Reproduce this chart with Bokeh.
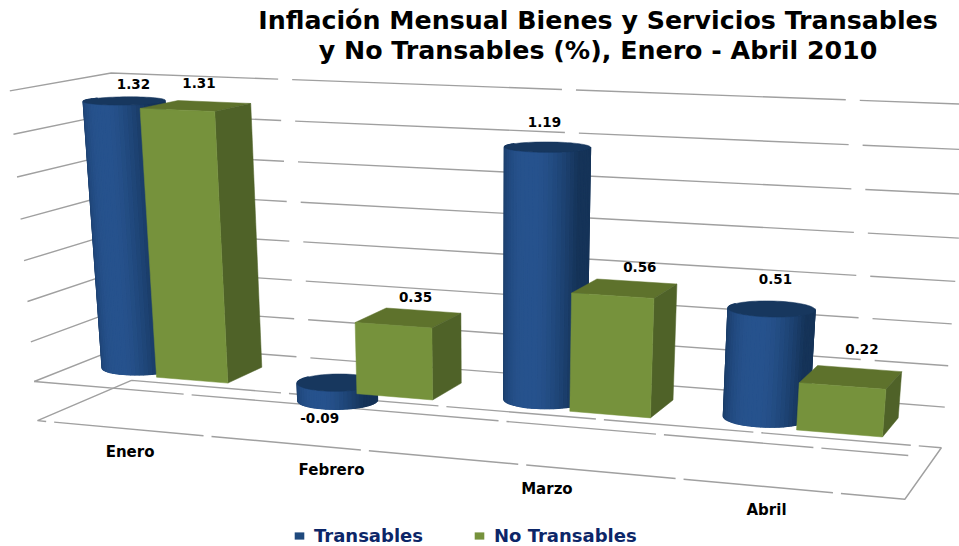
import numpy as np
from bokeh.plotting import figure
from bokeh.models import Range1d, Legend, LegendItem
from bokeh.core.properties import value
from bokeh.embed import file_html
from bokeh.resources import INLINE

# ---- data ----
meses = ["Enero", "Febrero", "Marzo", "Abril"]
transables = [1.32, -0.09, 1.19, 0.51]
no_transables = [1.31, 0.35, 0.56, 0.22]
etiquetas_t = ["1.32", "-0.09", "1.19", "0.51"]
etiquetas_n = ["1.31", "0.35", "0.56", "0.22"]
ticks = [-0.2, 0.0, 0.2, 0.4, 0.6, 0.8, 1.0, 1.2, 1.4]
titulo = ["Inflación Mensual Bienes y Servicios Transables",
          "y No Transables (%), Enero - Abril 2010"]
series = ["Transables", "No Transables"]

# ---- camera: (u along categories, w depth, v value) -> page pixels ----
cam_world = [(0, 0, -0.2), (0, 0, 1.4), (1, 0, -0.2), (1, 0, 1.4),
             (0, 1, -0.2), (0, 1, 1.4), (1, 1, -0.2), (1, 1, 1.4)]
cam_image = [(36, 420), (10, 90.5), (903, 498), (935, 128),
             (132, 380), (110, 72.5), (942, 448), (968, 103)]
A, b = [], []
for (U, W, V), (X, Y) in zip(cam_world, cam_image):
    A.append([U, W, V, 1, 0, 0, 0, 0, -X * U, -X * W, -X * V]); b.append(X)
    A.append([0, 0, 0, 0, U, W, V, 1, -Y * U, -Y * W, -Y * V]); b.append(Y)
h = np.linalg.lstsq(np.array(A, float), np.array(b, float), rcond=None)[0]
P = np.append(h, 1.0).reshape(3, 4)


def project(u, w, v):
    u, w, v = np.broadcast_arrays(np.asarray(u, float), np.asarray(w, float), np.asarray(v, float))
    q = P @ np.stack([u, w, v, np.ones_like(u)])
    return q[0] / q[2], q[1] / q[2]


# ---- layout in world units ----
n = len(meses)
centers = [(i + 0.5) / n for i in range(n)]
W0, W1 = 0.30, 0.70
BLUE_C, BLUE_R = -0.048, 0.0456
GREEN_L, GREEN_R = -0.0045, 0.0862
BLUE_DARK, BLUE_LIGHT = np.array([0x15, 0x33, 0x58]), np.array([0x27, 0x53, 0x8E])
BLUE_TOP = "#17375E"
G_FRONT, G_SIDE, G_TOP = "#76923C", "#4F6228", "#5E722C"
# pixel offsets of the value labels from the top of their bars
OFF_T = [(9, -17), (-18, 18), (-3, -25), (4, -30)]
OFF_N = [(3, -23), (7, -21), (15, -22), (11, -28)]
OFF_CAT = [5, 4, 4, -6]

p = figure(width=959, height=546, output_backend="svg", toolbar_location=None,
           x_range=Range1d(0, 959), y_range=Range1d(546, 0), min_border=0,
           outline_line_color=None, background_fill_color="white")
p.axis.visible = False
p.grid.visible = False

# ---- walls ----
GRID = "#A0A0A0"
wall_xs, wall_ys = [], []
for t in ticks[1:]:
    x1, y1 = project([0, 0, 1], [0, 1, 1], t)
    wall_xs.append(list(x1)); wall_ys.append(list(y1))
p.multi_line(wall_xs, wall_ys, line_color=GRID, line_width=1.4, line_dash="270 14")
fx, fy = project([0, 1, 1, 0, 0], [1, 1, 0, 0, 1], ticks[0])
p.line(fx, fy, line_color=GRID, line_width=1.4, line_dash="150 8")
zx, zy = project([0, 1], 0, 0.0)
p.line(zx, zy, line_color=GRID, line_width=1.4, line_dash="150 8")

# ---- bars, painter's order ----
xs, ys, fills, widths = [], [], [], []


def add(x, y, c, lw=0.5):
    xs.append(list(x)); ys.append(list(y)); fills.append(c); widths.append(lw)


theta = np.linspace(0, 2 * np.pi, 73)
for i, c in enumerate(centers):
    # cylinder
    val = transables[i]
    top, bot = max(val, 0.0), min(val, 0.0)
    cu, cw = c + BLUE_C, (W0 + W1) / 2
    rw = (W1 - W0) / 2
    eu, ew = cu + BLUE_R * np.cos(theta), cw + rw * np.sin(theta)
    add(*project(eu, ew, bot), "#17375E")
    edges = np.linspace(np.pi - 0.35, 2 * np.pi + 0.35, 37)
    mids = (edges[:-1] + edges[1:]) / 2
    for k in np.argsort(-np.abs(np.cos(mids))):
        a, d = edges[k], edges[k + 1]
        su = cu + BLUE_R * np.cos([a, d])
        sw = cw + rw * np.sin([a, d])
        tx, ty = project(su, sw, top)
        bx, by = project(su, sw, bot)
        s = 1 - abs(np.cos(mids[k]) + 0.1) ** 2.2
        s = float(np.clip(s, 0, 1))
        col = BLUE_DARK + (BLUE_LIGHT - BLUE_DARK) * s
        add(list(tx) + list(bx[::-1]), list(ty) + list(by[::-1]),
            "#%02x%02x%02x" % tuple(int(q) for q in col), 1.3)
    add(*project(eu, ew, top), BLUE_TOP)
    # box
    val = no_transables[i]
    ul, ur = c + GREEN_L, c + GREEN_R
    add(*project([ul, ur, ur, ul], [W0, W0, W1, W1], val), G_TOP)
    add(*project([ur, ur, ur, ur], [W0, W1, W1, W0], [0, 0, val, val]), G_SIDE)
    add(*project([ul, ur, ur, ul], W0, [0, 0, val, val]), G_FRONT)

p.patches(xs, ys, fill_color=fills, line_color=fills, line_width=widths)

# ---- text ----
LABEL = value("DejaVu Sans")
for i, c in enumerate(centers):
    val = transables[i]
    lx, ly = project(c + BLUE_C, (W0 + W1) / 2, val)
    p.text([float(lx) + OFF_T[i][0]], [float(ly) + OFF_T[i][1]], text=[etiquetas_t[i]],
           text_font=LABEL, text_font_style="bold", text_font_size="13.5px",
           text_align="center", text_baseline="middle", text_color="#000000")
    val = no_transables[i]
    lx, ly = project(c + (GREEN_L + GREEN_R) / 2, (W0 + W1) / 2, val)
    p.text([float(lx) + OFF_N[i][0]], [float(ly) + OFF_N[i][1]], text=[etiquetas_n[i]],
           text_font=LABEL, text_font_style="bold", text_font_size="13.5px",
           text_align="center", text_baseline="middle", text_color="#000000")
    cx, cy = project(c - 0.012, 0, ticks[0])
    p.text([float(cx) + OFF_CAT[i]], [float(cy) + 23], text=[meses[i]],
           text_font=LABEL, text_font_style="bold", text_font_size="15px",
           text_align="center", text_baseline="middle", text_color="#000000")

for line, yy in zip(titulo, (20, 50)):
    p.text([597.5], [yy], text=[line], text_font=LABEL, text_font_style="bold",
           text_font_size="25.3px", text_align="center", text_baseline="middle", text_color="#000000")

# ---- legend (proxy renderers carry no visible marks) ----
nan = float("nan")
r1 = p.quad(left=[nan], right=[nan], top=[nan], bottom=[nan], fill_color="#1F497D", line_color=None)
r2 = p.quad(left=[nan], right=[nan], top=[nan], bottom=[nan], fill_color="#76923C", line_color=None)
leg = Legend(items=[LegendItem(label=series[0], renderers=[r1]), LegendItem(label=series[1], renderers=[r2])],
             orientation="horizontal", location=(293, 0), background_fill_alpha=0, border_line_color=None,
             padding=0, margin=0, spacing=50, glyph_width=12, glyph_height=9, label_standoff=9,
             label_text_font="DejaVu Sans", label_text_font_style="bold", label_text_font_size="18px",
             label_text_color="#0C2668")
p.add_layout(leg)

html = file_html(p, INLINE)
html = html.replace("</head>", "<style>html,body{margin:0;overflow:hidden}</style></head>", 1)
open("out.html", "w").write(html)
